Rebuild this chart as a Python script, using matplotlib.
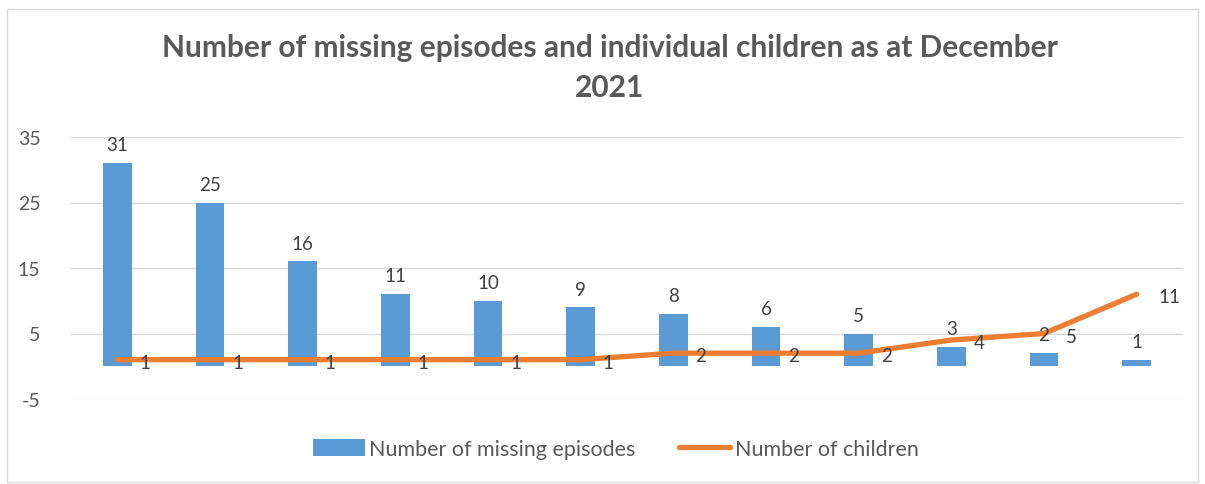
import numpy as np
import matplotlib.pyplot as plt
from matplotlib.patches import Rectangle

# data
episodes = [31, 25, 16, 11, 10, 9, 8, 6, 5, 3, 2, 1]
children = [1, 1, 1, 1, 1, 1, 2, 2, 2, 4, 5, 11]
yticks = [-5, 5, 15, 25, 35]

plt.rcParams['font.family'] = ['Lato', 'DejaVu Sans']
plt.rcParams['axes.unicode_minus'] = False

fig = plt.figure(figsize=(12.05, 4.85), dpi=100)
ax = fig.add_axes([71/1205, 1-400/485, 1112/1205, 262/485])

x = np.arange(len(episodes))
bars = ax.bar(x, episodes, width=0.31, color='#5B9BD5', label='Number of missing episodes', zorder=2)
line, = ax.plot(x, children, color='#ED7D31', lw=3.8, solid_capstyle='round', solid_joinstyle='round',
                label='Number of children', zorder=3)

for i, v in enumerate(episodes):
    ax.annotate(str(v), (i, v), xytext=(0, 7), textcoords='offset points',
                ha='center', va='bottom', fontsize=13.5, color='#404040')
for i, v in enumerate(children):
    ax.annotate(str(v), (i, v), xytext=(16, -2), textcoords='offset points',
                ha='left', va='center', fontsize=13.5, color='#404040')

ax.set_xlim(-0.5, len(episodes) - 0.5)
ax.set_ylim(-5, 35)
ax.set_yticks(yticks)
ax.set_xticks([])
ax.tick_params(axis='y', length=0, labelsize=14, labelcolor='#595959', pad=22)
ax.grid(axis='y', color='#d9d9d9', lw=1, zorder=0)
for s in ax.spines.values():
    s.set_visible(False)

fig.text(0.506, 0.86, 'Number of missing episodes and individual children as at December\n2021',
         ha='center', va='center', fontsize=21.5, fontweight='bold', color='#595959',
         linespacing=1.55)

fig.legend([bars, line], ['Number of missing episodes', 'Number of children'],
           loc='center', bbox_to_anchor=(0.511, 1-450/485), ncol=2, frameon=False,
           fontsize=15.5, labelcolor='#595959', handlelength=2.4, handleheight=0.8,
           handletextpad=0.2, columnspacing=2.0)

fig.patches.append(Rectangle((7/1205, 0.005), 1191/1205, 1-12/485, transform=fig.transFigure,
                             fill=False, edgecolor='#d9d9d9', lw=1))

fig.savefig('out.png', dpi=100)
